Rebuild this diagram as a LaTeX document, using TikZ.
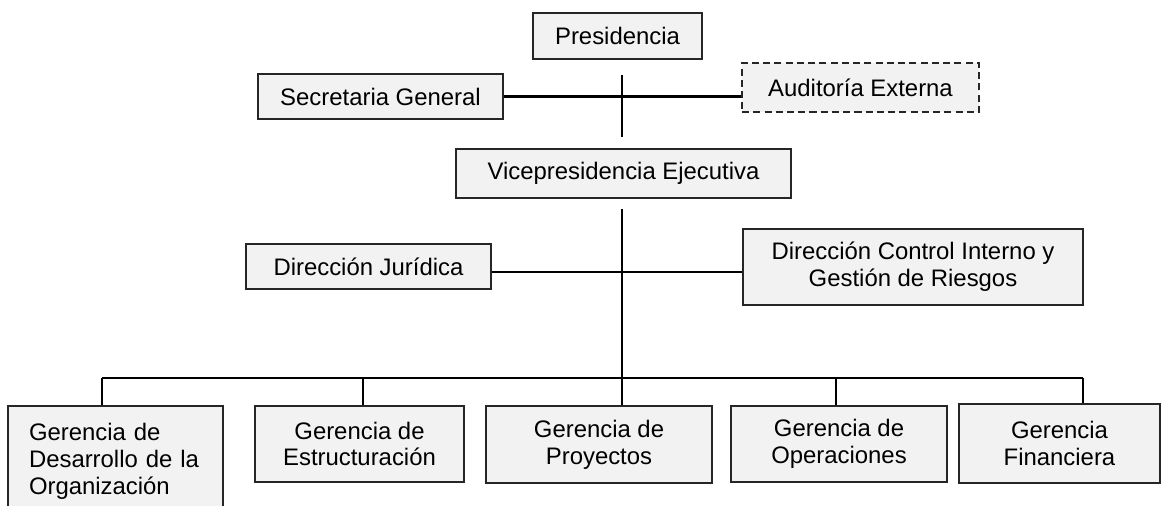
\documentclass[tikz,border=0pt]{standalone}
\usepackage{fontspec}
\setmainfont{Liberation Sans}
\definecolor{gris}{HTML}{F2F2F2}

\begin{document}
\begin{tikzpicture}[x=0.02cm,y=-0.02cm,
        caja/.style={draw=black!85,fill=gris,line width=0.9pt,inner sep=0pt,align=center,font=\fontsize{13.6}{15.3}\selectfont},
        linea/.style={line width=1.4pt}]
                \useasboundingbox (0,0) rectangle (1161,505);
                \node[caja,minimum width=3.38cm,minimum height=0.92cm] (pres) at (617.5,36) {Presidencia};
                \node[caja,minimum width=4.9cm,minimum height=0.9cm] (secg) at (380.5,96.5) {Secretaria General};
                \node[caja,dash pattern=on 4pt off 2.4pt,minimum width=4.74cm,minimum height=0.98cm] (audit) at (860.5,87.5) {Auditoría Externa};
                \node[caja,minimum width=6.7cm,minimum height=0.98cm] (vice) at (623.5,173.5) {Vicepresidencia Ejecutiva};
                \node[caja,minimum width=4.9cm,minimum height=0.9cm] (dirj) at (368.5,266.5) {Dirección Jurídica};
                \node[caja,minimum width=6.8cm,minimum height=1.52cm] (dirc) at (913,267) {Dirección Control Interno y\\Gestión de Riesgos};
                \node[caja,align=left,text width=3.46cm,inner xsep=0.42cm,minimum height=2.2cm] (gdes) at (115.5,461) {Gerencia de\\Desarrollo de la\\Organización};
                \node[caja,minimum width=4.18cm,minimum height=1.52cm] (gest) at (359.5,444) {Gerencia de\\Estructuración};
                \node[caja,minimum width=4.52cm,minimum height=1.54cm] (gpro) at (599,444.5) {Gerencia de\\Proyectos};
                \node[caja,minimum width=4.32cm,minimum height=1.52cm] (gope) at (839,444) {Gerencia de\\Operaciones};
                \node[caja,minimum width=4.02cm,minimum height=1.58cm] (gfin) at (1059.5,443.5) {Gerencia\\Financiera};
                \coordinate (t1) at (622,75);
                \coordinate (t2) at (622,137);
                \coordinate (m1) at (622,209);
                \coordinate (m2) at (622,272);
                \coordinate (b1) at (102,378);
                \coordinate (b2) at (363,378);
                \coordinate (b4) at (836,378);
                \coordinate (b5) at (1083,378);
                \draw[linea] (t1)--(t2);
                \draw[linea] (secg.east)--(secg.east -| audit.west);
                \draw[linea] (m1)--(m1 |- gpro.north);
                \draw[linea] (m2 -| dirj.east)--(m2 -| dirc.west);
                \draw[linea] (b1)--(b5);
                \draw[linea] (b1)--(b1 |- gdes.north);
                \draw[linea] (b2)--(b2 |- gest.north);
                \draw[linea] (b4)--(b4 |- gope.north);
                \draw[linea] (b5)--(b5 |- gfin.north);
            \end{tikzpicture}
\end{document}
